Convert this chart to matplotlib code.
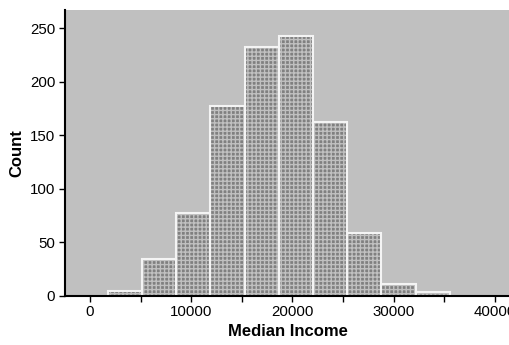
import numpy as np
import matplotlib
matplotlib.use("Agg")
import matplotlib.pyplot as plt

# histogram: 10 bins between min and max income
income_min = 1750
income_max = 35550
counts = [4, 34, 77, 177, 232, 243, 162, 59, 11, 3]

edges = np.linspace(income_min, income_max, len(counts) + 1)
widths = np.diff(edges)

plt.rcParams['font.family'] = ['Liberation Sans', 'DejaVu Sans']
plt.rcParams['hatch.linewidth'] = 1.0

fig = plt.figure(figsize=(5.10, 3.45), dpi=100)
ax = fig.add_axes([0.1275, 0.143, 0.8725, 0.828])
ax.set_facecolor('#c0c0c0')

# patterned fill first, then white outlines on top
ax.bar(edges[:-1], counts, width=widths, align='edge', color='#808080',
       edgecolor='#c0c0c0', linewidth=0, hatch='++++')
ax.bar(edges[:-1], counts, width=widths, align='edge', fill=False,
       edgecolor='#f4f4f4', linewidth=1.5)

ax.set_xlim(-2470, 41500)
ax.set_ylim(0, 267)
ax.set_xticks([0, 10000, 20000, 30000, 40000])
ax.set_xticks(np.arange(5000, 40000, 10000), minor=True)
ax.set_yticks([0, 50, 100, 150, 200, 250])

for s in ['top', 'right']:
    ax.spines[s].set_visible(False)
for s in ['left', 'bottom']:
    ax.spines[s].set_linewidth(1.5)
    ax.spines[s].set_color('black')

ax.tick_params(axis='both', which='major', length=4, width=1, labelsize=10.8, pad=3)
ax.tick_params(axis='x', which='minor', length=4, width=1)

ax.set_xlabel('Median Income', fontsize=12, fontweight='bold', labelpad=3)
ax.set_ylabel('Count', fontsize=12, fontweight='bold', labelpad=4)

fig.savefig('out.png', dpi=100)
